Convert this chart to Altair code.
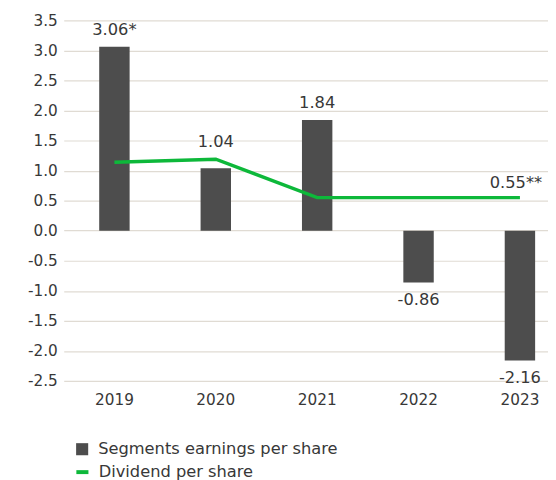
import altair as alt
import pandas as pd

years = ["2019", "2020", "2021", "2022", "2023"]
eps = [3.06, 1.04, 1.84, -0.86, -2.16]
eps_labels = ["3.06*", "1.04", "1.84", "-0.86", "-2.16"]
dividend = [1.14, 1.19, 0.55, 0.55, 0.55]
div_label_year = ["2023"]
div_label_value = [0.55]
div_label_text = ["0.55**"]
y_ticks = [-2.5, -2.0, -1.5, -1.0, -0.5, 0.0, 0.5, 1.0, 1.5, 2.0, 2.5, 3.0, 3.5]
bar_series = "Segments earnings per share"
line_series = "Dividend per share"

FONT = "DejaVu Sans"
FS_AX = 15.5
FS_LAB = 16.5
FS_LEG = 16.5
TXT = "#383838"
BAR = "#4d4d4d"
GREEN = "#0db83a"

df = pd.DataFrame({"year": years, "eps": eps, "label": eps_labels, "dividend": dividend})
df["series_bar"] = bar_series
df["series_line"] = line_series
df["label_y"] = [max(e, d) if e >= 0 else e for e, d in zip(eps, dividend)]
df["pos"] = ["up" if e >= 0 else "down" for e in eps]

df_div = pd.DataFrame({"year": div_label_year, "v": div_label_value, "t": div_label_text})

xscale = alt.Scale(domain=years, range=[-12.45, 501.95], paddingInner=0.7, paddingOuter=0.35)
xaxis = alt.Axis(title=None, labelAngle=0, domain=False, ticks=False, labelPadding=12,
                 labelFontSize=FS_AX, labelColor=TXT, labelFont=FONT, grid=False)
x = alt.X("year:N", sort=years, scale=xscale, axis=xaxis)
yscale = alt.Scale(domain=[-2.5, 3.5], nice=False, zero=False)
yaxis = alt.Axis(title=None, values=y_ticks, domain=False, ticks=False,
                 labelPadding=19, labelFontSize=FS_AX, labelColor=TXT, labelFont=FONT,
                 labelExpr="replace(format(datum.value, '.1f'), '\u2212', '-')",
                 grid=True, gridColor="#e0dbd3", gridWidth=1.2)

leg_common = dict(title=None, orient="none", padding=0, labelFontSize=FS_LEG, labelFont=FONT,
                  labelColor=TXT, labelOffset=8, labelLimit=400)

bars = alt.Chart(df).mark_bar().encode(
    x=x,
    y=alt.Y("eps:Q", scale=yscale, axis=yaxis),
    fill=alt.Fill("series_bar:N", scale=alt.Scale(domain=[bar_series], range=[BAR]),
                  legend=alt.Legend(legendX=-2, legendY=427, symbolType="square", symbolSize=150,
                                    symbolStrokeWidth=0, **leg_common)),
)

line = alt.Chart(df).mark_line(strokeWidth=3.5).encode(
    x=x,
    y=alt.Y("dividend:Q", scale=yscale, axis=yaxis),
    stroke=alt.Stroke("series_line:N", scale=alt.Scale(domain=[line_series], range=[GREEN]),
                      legend=alt.Legend(legendX=-2, legendY=450, symbolType="stroke", symbolSize=150,
                                        symbolStrokeWidth=4, **leg_common)),
)

lab_up = alt.Chart(df).transform_filter("datum.pos === 'up'").mark_text(
    baseline="bottom", dy=-9, fontSize=FS_LAB, font=FONT, color=TXT
).encode(x=x, y=alt.Y("label_y:Q", scale=yscale, axis=yaxis), text="label:N")

lab_down = alt.Chart(df).transform_filter("datum.pos === 'down'").mark_text(
    baseline="top", dy=10, fontSize=FS_LAB, font=FONT, color=TXT
).encode(x=x, y=alt.Y("label_y:Q", scale=yscale, axis=yaxis), text="label:N")

lab_div = alt.Chart(df_div).mark_text(
    baseline="bottom", dy=-7, dx=-4, fontSize=FS_LAB, font=FONT, color=TXT
).encode(x=x, y=alt.Y("v:Q", scale=yscale, axis=yaxis), text="t:N")

chart = alt.layer(bars, line, lab_up, lab_down, lab_div).properties(
    width=479, height=366,
    autosize=alt.AutoSizeParams(type="none"),
    padding={"left": 69, "top": 9, "right": 0, "bottom": 97},
).configure_view(strokeWidth=0)

chart.save("out.html", embed_options={"renderer": "svg", "actions": False})
